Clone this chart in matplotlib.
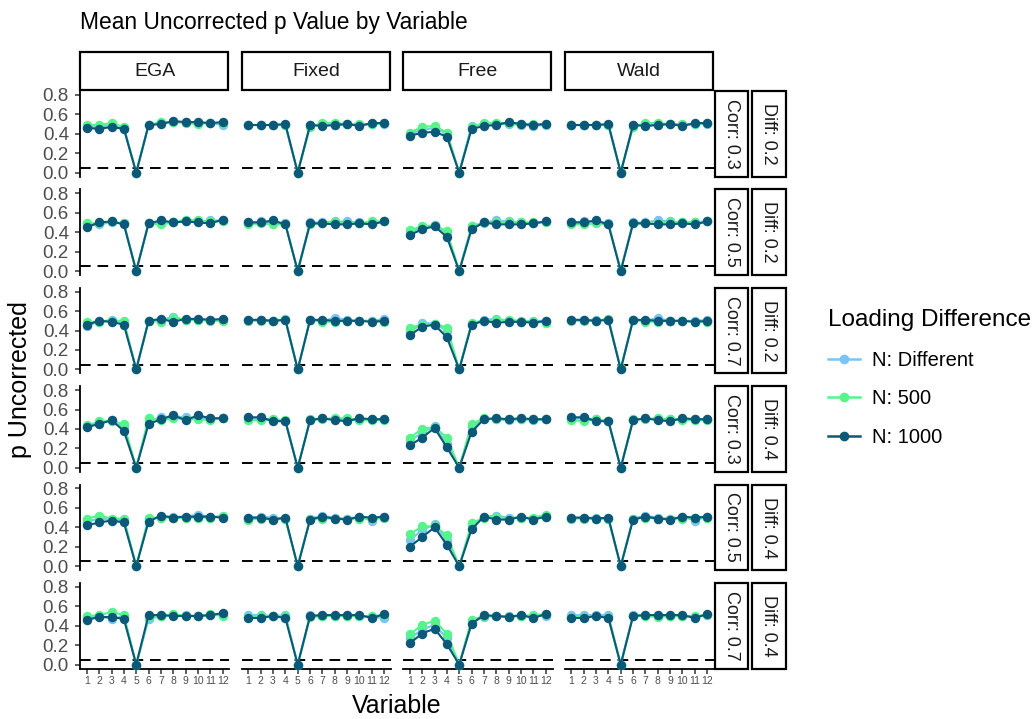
import matplotlib
matplotlib.use("Agg")
import matplotlib.pyplot as plt
from matplotlib.lines import Line2D
from matplotlib.patches import Rectangle

plt.rcParams['font.family'] = ['Liberation Sans', 'DejaVu Sans']

methods = ["EGA", "Fixed", "Free", "Wald"]
corr_labels = ["Corr: 0.3", "Corr: 0.5", "Corr: 0.7", "Corr: 0.3", "Corr: 0.5", "Corr: 0.7"]
diff_labels = ["Diff: 0.2", "Diff: 0.2", "Diff: 0.2", "Diff: 0.4", "Diff: 0.4", "Diff: 0.4"]
variables = list(range(1, 13))
series_names = ["N: Different", "N: 500", "N: 1000"]
series_colors = ["#7CC4F4", "#55F58C", "#0C5878"]

# rows: facet rows (Corr/Diff), 12 values per row
EGA_DIFF = [
    [0.47, 0.47, 0.49, 0.46, 0.0, 0.49, 0.51, 0.52, 0.52, 0.51, 0.51, 0.49],
    [0.47, 0.48, 0.50, 0.49, 0.0, 0.49, 0.51, 0.50, 0.51, 0.51, 0.52, 0.52],
    [0.45, 0.49, 0.51, 0.48, 0.0, 0.50, 0.51, 0.54, 0.51, 0.51, 0.51, 0.51],
    [0.44, 0.46, 0.49, 0.42, 0.0, 0.48, 0.52, 0.53, 0.52, 0.51, 0.51, 0.51],
    [0.46, 0.49, 0.48, 0.47, 0.0, 0.48, 0.51, 0.51, 0.51, 0.53, 0.51, 0.51],
    [0.48, 0.50, 0.47, 0.50, 0.0, 0.47, 0.50, 0.51, 0.51, 0.50, 0.51, 0.51],
]
EGA_500 = [
    [0.49, 0.49, 0.51, 0.47, 0.0, 0.49, 0.52, 0.52, 0.51, 0.50, 0.51, 0.51],
    [0.49, 0.49, 0.51, 0.49, 0.0, 0.49, 0.48, 0.50, 0.53, 0.52, 0.51, 0.51],
    [0.49, 0.49, 0.50, 0.50, 0.0, 0.50, 0.49, 0.53, 0.51, 0.51, 0.50, 0.50],
    [0.43, 0.48, 0.48, 0.45, 0.0, 0.51, 0.49, 0.51, 0.50, 0.50, 0.49, 0.51],
    [0.49, 0.52, 0.49, 0.49, 0.0, 0.50, 0.50, 0.50, 0.50, 0.50, 0.50, 0.52],
    [0.50, 0.51, 0.54, 0.51, 0.0, 0.49, 0.50, 0.52, 0.50, 0.50, 0.52, 0.50],
]
EGA_1000 = [
    [0.46, 0.45, 0.47, 0.45, 0.0, 0.49, 0.50, 0.53, 0.52, 0.52, 0.51, 0.52],
    [0.45, 0.50, 0.51, 0.48, 0.0, 0.49, 0.52, 0.50, 0.51, 0.50, 0.49, 0.53],
    [0.46, 0.50, 0.49, 0.46, 0.0, 0.50, 0.52, 0.49, 0.52, 0.52, 0.51, 0.52],
    [0.42, 0.45, 0.49, 0.38, 0.0, 0.45, 0.50, 0.54, 0.49, 0.54, 0.51, 0.51],
    [0.42, 0.45, 0.47, 0.45, 0.0, 0.46, 0.52, 0.50, 0.51, 0.51, 0.51, 0.50],
    [0.46, 0.49, 0.49, 0.47, 0.0, 0.51, 0.51, 0.50, 0.50, 0.50, 0.51, 0.53],
]
FIXED_DIFF = [
    [0.49, 0.49, 0.49, 0.49, 0.0, 0.49, 0.49, 0.49, 0.50, 0.49, 0.50, 0.50],
    [0.50, 0.51, 0.50, 0.49, 0.0, 0.50, 0.50, 0.51, 0.51, 0.50, 0.50, 0.51],
    [0.51, 0.51, 0.50, 0.51, 0.0, 0.51, 0.50, 0.53, 0.51, 0.50, 0.50, 0.52],
    [0.50, 0.51, 0.49, 0.48, 0.0, 0.49, 0.51, 0.50, 0.50, 0.50, 0.50, 0.50],
    [0.50, 0.51, 0.50, 0.49, 0.0, 0.49, 0.52, 0.50, 0.49, 0.51, 0.47, 0.51],
    [0.51, 0.51, 0.50, 0.51, 0.0, 0.51, 0.50, 0.50, 0.50, 0.50, 0.49, 0.48],
]
FIXED_500 = [
    [0.49, 0.49, 0.49, 0.49, 0.0, 0.47, 0.51, 0.51, 0.50, 0.50, 0.50, 0.51],
    [0.48, 0.49, 0.48, 0.48, 0.0, 0.48, 0.49, 0.50, 0.49, 0.49, 0.51, 0.51],
    [0.50, 0.50, 0.50, 0.52, 0.0, 0.51, 0.49, 0.49, 0.50, 0.50, 0.50, 0.49],
    [0.49, 0.49, 0.50, 0.49, 0.0, 0.50, 0.50, 0.51, 0.51, 0.49, 0.49, 0.49],
    [0.48, 0.49, 0.48, 0.49, 0.0, 0.49, 0.49, 0.49, 0.49, 0.49, 0.49, 0.50],
    [0.49, 0.50, 0.50, 0.50, 0.0, 0.49, 0.50, 0.50, 0.50, 0.50, 0.50, 0.51],
]
FIXED_1000 = [
    [0.49, 0.49, 0.49, 0.50, 0.0, 0.49, 0.48, 0.49, 0.50, 0.48, 0.51, 0.51],
    [0.50, 0.50, 0.52, 0.48, 0.0, 0.49, 0.49, 0.48, 0.48, 0.49, 0.48, 0.51],
    [0.51, 0.51, 0.50, 0.51, 0.0, 0.51, 0.51, 0.50, 0.50, 0.50, 0.49, 0.50],
    [0.52, 0.52, 0.48, 0.48, 0.0, 0.49, 0.51, 0.49, 0.48, 0.51, 0.50, 0.50],
    [0.50, 0.50, 0.48, 0.50, 0.0, 0.48, 0.51, 0.49, 0.48, 0.51, 0.50, 0.51],
    [0.48, 0.48, 0.50, 0.48, 0.0, 0.50, 0.51, 0.51, 0.51, 0.51, 0.48, 0.52],
]
FREE_DIFF = [
    [0.40, 0.44, 0.46, 0.40, 0.0, 0.48, 0.50, 0.50, 0.50, 0.49, 0.48, 0.49],
    [0.40, 0.45, 0.47, 0.39, 0.0, 0.46, 0.50, 0.52, 0.51, 0.50, 0.49, 0.51],
    [0.38, 0.48, 0.47, 0.40, 0.0, 0.47, 0.51, 0.52, 0.50, 0.49, 0.50, 0.50],
    [0.28, 0.36, 0.43, 0.25, 0.0, 0.42, 0.50, 0.50, 0.49, 0.50, 0.49, 0.50],
    [0.27, 0.37, 0.43, 0.27, 0.0, 0.42, 0.51, 0.52, 0.50, 0.50, 0.49, 0.51],
    [0.27, 0.36, 0.41, 0.27, 0.0, 0.44, 0.49, 0.50, 0.50, 0.50, 0.50, 0.50],
]
FREE_500 = [
    [0.41, 0.47, 0.48, 0.41, 0.0, 0.47, 0.51, 0.51, 0.51, 0.50, 0.50, 0.50],
    [0.42, 0.46, 0.47, 0.41, 0.0, 0.46, 0.49, 0.50, 0.50, 0.50, 0.50, 0.50],
    [0.43, 0.46, 0.47, 0.43, 0.0, 0.48, 0.50, 0.51, 0.51, 0.50, 0.49, 0.48],
    [0.31, 0.40, 0.42, 0.31, 0.0, 0.45, 0.51, 0.50, 0.50, 0.50, 0.50, 0.50],
    [0.33, 0.41, 0.41, 0.32, 0.0, 0.44, 0.50, 0.51, 0.49, 0.50, 0.50, 0.53],
    [0.31, 0.41, 0.45, 0.32, 0.0, 0.46, 0.50, 0.50, 0.49, 0.50, 0.51, 0.52],
]
FREE_1000 = [
    [0.38, 0.41, 0.42, 0.37, 0.0, 0.45, 0.48, 0.49, 0.52, 0.50, 0.49, 0.50],
    [0.37, 0.43, 0.46, 0.35, 0.0, 0.43, 0.50, 0.48, 0.48, 0.48, 0.49, 0.51],
    [0.35, 0.44, 0.46, 0.33, 0.0, 0.46, 0.50, 0.48, 0.49, 0.49, 0.48, 0.50],
    [0.23, 0.31, 0.41, 0.21, 0.0, 0.37, 0.50, 0.51, 0.50, 0.51, 0.50, 0.50],
    [0.20, 0.30, 0.40, 0.22, 0.0, 0.38, 0.51, 0.48, 0.48, 0.51, 0.48, 0.51],
    [0.22, 0.32, 0.37, 0.21, 0.0, 0.42, 0.51, 0.50, 0.49, 0.51, 0.48, 0.52],
]
WALD_DIFF = [
    [0.49, 0.49, 0.49, 0.49, 0.0, 0.49, 0.49, 0.49, 0.50, 0.49, 0.50, 0.50],
    [0.50, 0.51, 0.51, 0.49, 0.0, 0.50, 0.50, 0.52, 0.51, 0.50, 0.50, 0.51],
    [0.51, 0.51, 0.51, 0.51, 0.0, 0.51, 0.50, 0.53, 0.50, 0.50, 0.50, 0.51],
    [0.50, 0.51, 0.50, 0.48, 0.0, 0.49, 0.51, 0.50, 0.50, 0.50, 0.50, 0.50],
    [0.50, 0.50, 0.50, 0.49, 0.0, 0.49, 0.52, 0.50, 0.49, 0.51, 0.47, 0.51],
    [0.51, 0.51, 0.51, 0.51, 0.0, 0.51, 0.51, 0.50, 0.50, 0.50, 0.49, 0.51],
]
WALD_500 = [
    [0.49, 0.49, 0.49, 0.49, 0.01, 0.47, 0.51, 0.51, 0.50, 0.50, 0.50, 0.51],
    [0.48, 0.48, 0.49, 0.48, 0.01, 0.49, 0.49, 0.49, 0.50, 0.50, 0.50, 0.51],
    [0.50, 0.50, 0.50, 0.52, 0.01, 0.51, 0.49, 0.49, 0.50, 0.50, 0.49, 0.49],
    [0.49, 0.48, 0.50, 0.48, 0.0, 0.50, 0.50, 0.51, 0.50, 0.49, 0.49, 0.49],
    [0.49, 0.49, 0.49, 0.49, 0.0, 0.49, 0.50, 0.49, 0.49, 0.49, 0.50, 0.50],
    [0.49, 0.49, 0.50, 0.49, 0.0, 0.50, 0.50, 0.49, 0.50, 0.50, 0.50, 0.51],
]
WALD_1000 = [
    [0.49, 0.49, 0.49, 0.50, 0.0, 0.49, 0.48, 0.49, 0.50, 0.48, 0.51, 0.51],
    [0.50, 0.50, 0.52, 0.48, 0.0, 0.49, 0.49, 0.48, 0.48, 0.49, 0.48, 0.51],
    [0.51, 0.51, 0.50, 0.51, 0.0, 0.51, 0.51, 0.50, 0.50, 0.50, 0.49, 0.50],
    [0.52, 0.52, 0.48, 0.48, 0.0, 0.49, 0.51, 0.49, 0.48, 0.51, 0.50, 0.50],
    [0.50, 0.50, 0.49, 0.50, 0.0, 0.48, 0.51, 0.49, 0.48, 0.51, 0.50, 0.51],
    [0.48, 0.48, 0.50, 0.48, 0.0, 0.50, 0.51, 0.51, 0.51, 0.51, 0.48, 0.52],
]

panel_data = {
    "EGA": [EGA_DIFF, EGA_500, EGA_1000],
    "Fixed": [FIXED_DIFF, FIXED_500, FIXED_1000],
    "Free": [FREE_DIFF, FREE_500, FREE_1000],
    "Wald": [WALD_DIFF, WALD_500, WALD_1000],
}
threshold = 0.05
y_ticks = [0.0, 0.2, 0.4, 0.6, 0.8]

W, H = 1036, 719
fig = plt.figure(figsize=(W / 100, H / 100), dpi=100)


def fbox(x, y, w, h):
    return [x / W, 1 - (y + h) / H, w / W, h / H]


col_left = [80, 241.5, 403, 564.5]
pw = 149.5
row_top0 = 91
row_step = 98.4
ph = 85.5
tick_col = "#4D4D4D"

for r in range(6):
    top = row_top0 + r * row_step
    for c, m in enumerate(methods):
        ax = fig.add_axes(fbox(col_left[c], top, pw, ph))
        ax.set_xlim(0.45, 12.55)
        ax.set_ylim(-0.04, 0.84)
        ax.axhline(threshold, color="black", lw=1.4, ls=(0, (5.5, 3.5)), zorder=1)
        for s in range(3):
            vals = panel_data[m][s][r]
            ax.plot(variables, vals, color=series_colors[s], lw=1.5, marker="o",
                    markersize=6.8, markeredgewidth=0, zorder=2 + s, clip_on=False)
        for sp in ["top", "right"]:
            ax.spines[sp].set_visible(False)
        ax.spines["left"].set_visible(c == 0)
        ax.spines["bottom"].set_visible(r == 5)
        ax.spines["left"].set_linewidth(1.3)
        ax.spines["bottom"].set_linewidth(1.3)
        ax.set_yticks(y_ticks)
        ax.set_xticks(variables)
        ax.tick_params(axis="y", length=3.5 if c == 0 else 0, width=1.1, color="#333333",
                       labelsize=13.5, labelcolor=tick_col, pad=4.5, labelleft=(c == 0))
        ax.tick_params(axis="x", length=3.5 if r == 5 else 0, width=1.1, color="#333333",
                       labelsize=7.5, labelcolor=tick_col, pad=2, labelbottom=(r == 5))
        ax.set_yticklabels(["0.0", "0.2", "0.4", "0.6", "0.8"])
        ax.patch.set_alpha(0)

    # right strips
    for k, (lab, sx, sw) in enumerate([(corr_labels[r], 715, 33), (diff_labels[r], 752, 34)]):
        fig.patches.append(Rectangle((sx / W, 1 - (top + ph) / H), sw / W, ph / H,
                                     transform=fig.transFigure, facecolor="white",
                                     edgecolor="black", lw=1.6))
        fig.text((sx + sw / 2) / W, 1 - (top + ph / 2) / H, lab, rotation=-90,
                 ha="center", va="center", fontsize=13, color="#1A1A1A")

# top strips
for c, m in enumerate(methods):
    fig.patches.append(Rectangle((col_left[c] / W, 1 - 90 / H), (pw - 1.5) / W, 38 / H,
                                 transform=fig.transFigure, facecolor="white",
                                 edgecolor="black", lw=1.6))
    fig.text((col_left[c] + pw / 2) / W, 1 - 71 / H, m, ha="center", va="center",
             fontsize=14, color="#1A1A1A")

fig.text(80 / W, 1 - 22 / H, "Mean Uncorrected p Value by Variable", ha="left",
         va="center", fontsize=16.4, color="black")
fig.text(20 / W, 1 - 380 / H, "p Uncorrected", rotation=90, ha="center", va="center",
         fontsize=18, color="black")
fig.text(397 / W, 1 - 706 / H, "Variable", ha="center", va="center", fontsize=18,
         color="black")

handles = [Line2D([0], [0], color=series_colors[s], lw=1.8, marker="o", markersize=7,
                  markeredgewidth=0) for s in range(3)]
leg = fig.legend(handles, series_names, title="Loading Difference",
                 loc="upper left", bbox_to_anchor=(820 / W, 1 - 301 / H),
                 frameon=False, fontsize=14.5, title_fontsize=17.5,
                 handlelength=1.6, labelspacing=0.97, handletextpad=0.6,
                 borderaxespad=0)
leg._legend_box.align = "left"

fig.savefig("out.png", dpi=100)
